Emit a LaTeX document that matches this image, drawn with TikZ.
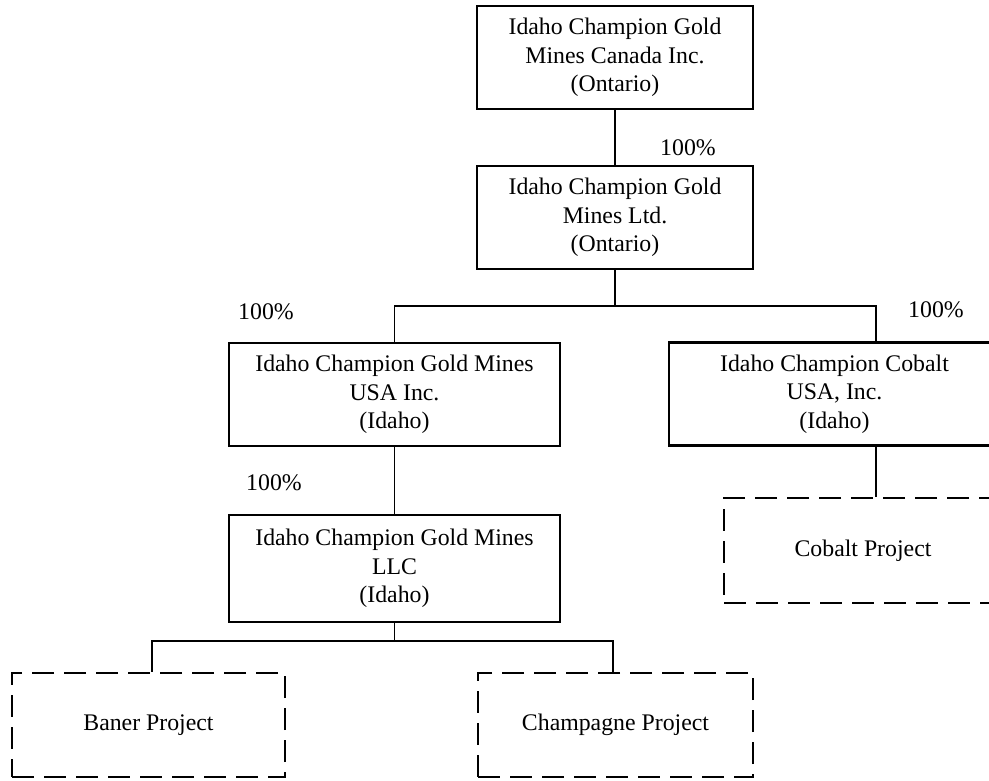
\documentclass[tikz,border=0pt]{standalone}
\usepackage{fontspec}
\setmainfont{Liberation Serif}
\newcommand{\chartfont}{\fontsize{23.8}{28.3}\selectfont}
\tikzset{
  company/.style={draw, line width=2.6pt, minimum height=103pt, align=center,
    inner sep=0pt, font=\chartfont},
  project/.style={draw, line width=2.8pt, dash pattern=on 22pt off 10pt,
    minimum height=104pt, inner sep=0pt, font=\chartfont},
  link/.style={line width=1.9pt},
  share/.style={font=\chartfont, inner sep=0pt}
}
\begin{document}
\begin{tikzpicture}[x=1pt,y=-1pt]
    % Page frame
    \useasboundingbox (0,0) rectangle (989,781);
    \clip (0,0) rectangle (989,781);

    % Draw the companies
    \node[company, minimum width=276pt] (canada) at (615,57.5) {Idaho Champion Gold\\Mines Canada Inc.\\(Ontario)};
    \node[company, minimum width=276pt] (ltd) at (615,217.5) {Idaho Champion Gold\\Mines Ltd.\\(Ontario)};
    \node[company, minimum width=331pt] (usa) at (394.5,394.5) {Idaho Champion Gold Mines\\USA Inc.\\(Idaho)};
    \node[company, minimum width=331pt] (cobaltco) at (834.5,394) {Idaho Champion Cobalt\\USA, Inc.\\(Idaho)};
    \node[company, minimum width=331pt, minimum height=107pt] (llc) at (394.5,568.5) {Idaho Champion Gold Mines\\LLC\\(Idaho)};

    % Draw the projects
    \node[project, minimum width=273pt] (baner) at (148.5,725) {Baner Project};
    \node[project, minimum width=275pt] (champagne) at (615.5,725) {Champagne Project};
    \node[project, minimum width=278pt, minimum height=105pt] (cobaltpr) at (863,550.5) {Cobalt Project};

    % Draw the ownership lines
    \coordinate (split) at (615,306);
    \coordinate (cobaltdrop) at (876,306);
    \coordinate (llcsplit) at (394.5,641);
    \coordinate (banerdrop) at (152,641);
    \coordinate (champdrop) at (613,641);

    \draw[link] (canada) -- (ltd);
    \draw[link] (ltd) -- (split);
    \draw[link] (usa) |- (cobaltdrop) -- (cobaltdrop |- cobaltco.north);
    \draw[link] (cobaltdrop |- cobaltco.south) -- (cobaltdrop |- cobaltpr.north);
    \draw[link] (usa) -- (llc);
    \draw[link] (llc) -- (llcsplit);
    \draw[link] (banerdrop |- baner.north) -- (banerdrop) -- (champdrop) -- (champdrop |- champagne.north);

    % Add the share labels
    \node[share] (sharecanada) at (688,148) {100\%};
    \node[share] (shareusa) at (266,312) {100\%};
    \node[share] (sharecobalt) at (936,310) {100\%};
    \node[share] (sharellc) at (274,483) {100\%};
\end{tikzpicture}
\end{document}
